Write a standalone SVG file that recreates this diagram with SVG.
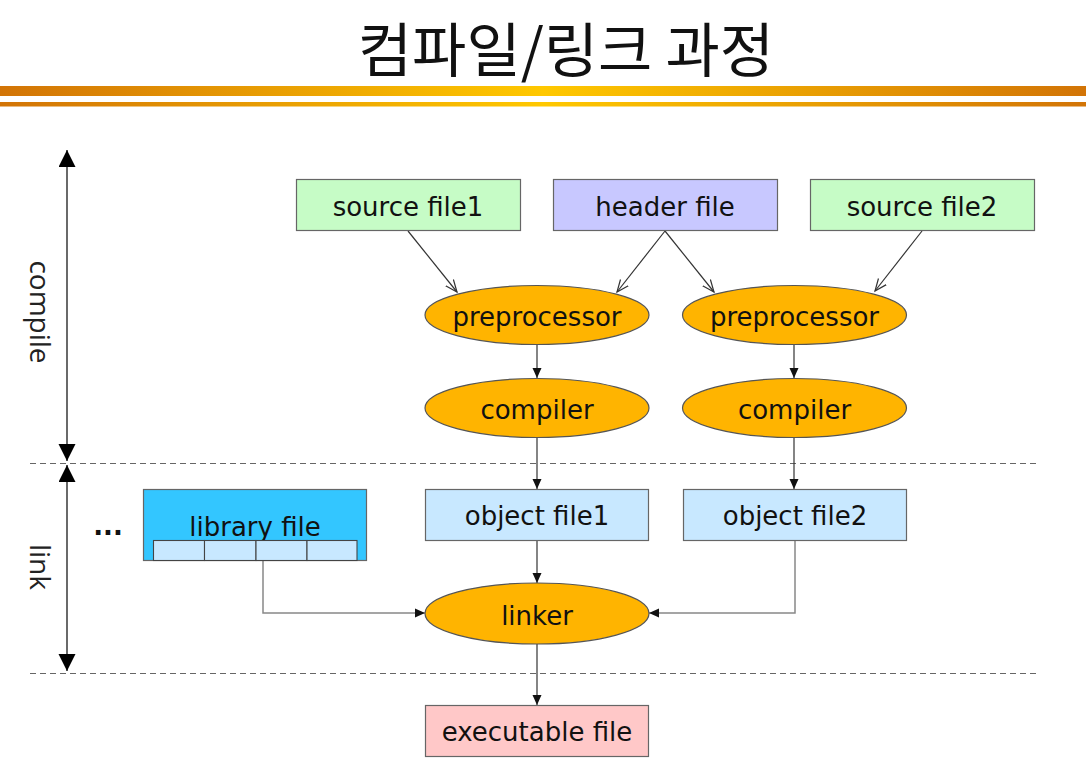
<svg xmlns="http://www.w3.org/2000/svg" width="1086" height="771" viewBox="0 0 1086 771">
<defs>
<linearGradient id="bar" x1="0" y1="0" x2="1" y2="0">
<stop offset="0" stop-color="#D27406"/>
<stop offset="0.5" stop-color="#FFC800"/>
<stop offset="1" stop-color="#D27406"/>
</linearGradient>
<marker id="open" markerUnits="userSpaceOnUse" markerWidth="14" markerHeight="12" refX="12" refY="6" orient="auto">
<path d="M0,1 L12,6 L0,11" fill="none" stroke="#333" stroke-width="1.2"/>
</marker>
<marker id="fill" markerUnits="userSpaceOnUse" markerWidth="11" markerHeight="10" refX="10" refY="5" orient="auto">
<path d="M0,0.5 L10,5 L0,9.5 z" fill="#111"/>
</marker>
<marker id="big" markerUnits="userSpaceOnUse" markerWidth="18" markerHeight="18" refX="17" refY="8.5" orient="auto-start-reverse">
<path d="M0,0 L17,8.5 L0,17 z" fill="#000"/>
</marker>
</defs>
<style>
.lbl{font-family:"DejaVu Sans","Liberation Sans",sans-serif;font-size:26px;fill:#111;text-anchor:middle}
.side{font-family:"Open Sans","DejaVu Sans",sans-serif;font-size:28px;fill:#222;text-anchor:middle}
.box{stroke:#666;stroke-width:1.2}
.ell{fill:#FFB400;stroke:#555;stroke-width:1.2}
.conn{fill:none;stroke:#333;stroke-width:1.2}
.gray{fill:none;stroke:#888;stroke-width:1.5}
.dash{fill:none;stroke:#666;stroke-width:1.2;stroke-dasharray:6 4}
</style>
<rect width="1086" height="771" fill="#fff"/>
<g id="title">
<text x="566" y="72" font-family="'Noto Sans CJK KR',sans-serif" font-size="59" text-anchor="middle" fill="#111">컴파일/링크 과정</text>
<rect x="0" y="86" width="1086" height="10" fill="url(#bar)"/>
<rect x="0" y="102" width="1086" height="4.5" fill="url(#bar)"/>
</g>
<g id="axis">
<line x1="67" y1="150" x2="67" y2="461" stroke="#444" stroke-width="1.6" marker-start="url(#big)" marker-end="url(#big)"/>
<line x1="67" y1="465" x2="67" y2="671" stroke="#444" stroke-width="1.6" marker-start="url(#big)" marker-end="url(#big)"/>
<text class="side" transform="translate(30,312) rotate(90)">compile</text>
<text class="side" transform="translate(30,567) rotate(90)">link</text>
<line class="dash" x1="30" y1="463.5" x2="1040" y2="463.5"/>
<line class="dash" x1="30" y1="673.5" x2="1040" y2="673.5"/>
</g>
<g id="connectors">
<line class="conn" x1="408" y1="231" x2="457" y2="292" marker-end="url(#open)"/>
<line class="conn" x1="665" y1="231" x2="617" y2="292" marker-end="url(#open)"/>
<line class="conn" x1="665" y1="231" x2="714" y2="292" marker-end="url(#open)"/>
<line class="conn" x1="922" y1="231" x2="875" y2="291" marker-end="url(#open)"/>
<line class="conn" x1="537" y1="344" x2="537" y2="378" marker-end="url(#fill)"/>
<line class="conn" x1="794" y1="344" x2="794" y2="378" marker-end="url(#fill)"/>
<line class="conn" x1="537" y1="437" x2="537" y2="489" marker-end="url(#fill)"/>
<line class="conn" x1="794" y1="437" x2="794" y2="489" marker-end="url(#fill)"/>
<line class="conn" x1="537" y1="540" x2="537" y2="583" marker-end="url(#fill)"/>
<line class="conn" x1="537" y1="644" x2="537" y2="705" marker-end="url(#fill)"/>
<path class="gray" d="M263,561 V613 H425" marker-end="url(#fill)"/>
<path class="gray" d="M795,540 V613 H649" marker-end="url(#fill)"/>
</g>
<g id="source1">
<rect class="box" x="296.5" y="179.5" width="224" height="51" fill="#C6FCC6"/>
<text class="lbl" x="408" y="216">source file1</text>
</g>
<g id="header">
<rect class="box" x="553.5" y="179.5" width="224" height="51" fill="#C8C8FF"/>
<text class="lbl" x="665" y="216">header file</text>
</g>
<g id="source2">
<rect class="box" x="810.5" y="179.5" width="224" height="51" fill="#C6FCC6"/>
<text class="lbl" x="922" y="216">source file2</text>
</g>
<g id="pre1">
<ellipse class="ell" cx="537" cy="315" rx="112" ry="29.5"/>
<text class="lbl" x="537" y="326">preprocessor</text>
</g>
<g id="pre2">
<ellipse class="ell" cx="794.5" cy="315" rx="112" ry="29.5"/>
<text class="lbl" x="794.5" y="326">preprocessor</text>
</g>
<g id="comp1">
<ellipse class="ell" cx="537" cy="408" rx="112" ry="29.5"/>
<text class="lbl" x="537" y="419">compiler</text>
</g>
<g id="comp2">
<ellipse class="ell" cx="794.5" cy="408" rx="112" ry="29.5"/>
<text class="lbl" x="794.5" y="419">compiler</text>
</g>
<g id="obj1">
<rect class="box" x="425.5" y="489.5" width="223" height="51" fill="#C8E8FF"/>
<text class="lbl" x="537" y="525">object file1</text>
</g>
<g id="obj2">
<rect class="box" x="683.5" y="489.5" width="223" height="51" fill="#C8E8FF"/>
<text class="lbl" x="795" y="525">object file2</text>
</g>
<g id="library">
<text x="108" y="535" font-family="'DejaVu Sans',sans-serif" font-weight="bold" font-size="26" text-anchor="middle" fill="#111">...</text>
<rect class="box" x="143.5" y="489.5" width="223" height="71" fill="#33C6FF"/>
<text class="lbl" x="255" y="536">library file</text>
<g fill="#C8E8FF" stroke="#444" stroke-width="1.1">
<rect x="153.5" y="540.5" width="51" height="20"/>
<rect x="204.5" y="540.5" width="51.5" height="20"/>
<rect x="256" y="540.5" width="51" height="20"/>
<rect x="307" y="540.5" width="50" height="20"/>
</g>
</g>
<g id="linker">
<ellipse class="ell" cx="537" cy="613.5" rx="112" ry="30.5"/>
<text class="lbl" x="537" y="625">linker</text>
</g>
<g id="exec">
<rect class="box" x="425.5" y="705.5" width="223" height="51" fill="#FFC8C8"/>
<text class="lbl" x="537" y="741">executable file</text>
</g>
</svg>
